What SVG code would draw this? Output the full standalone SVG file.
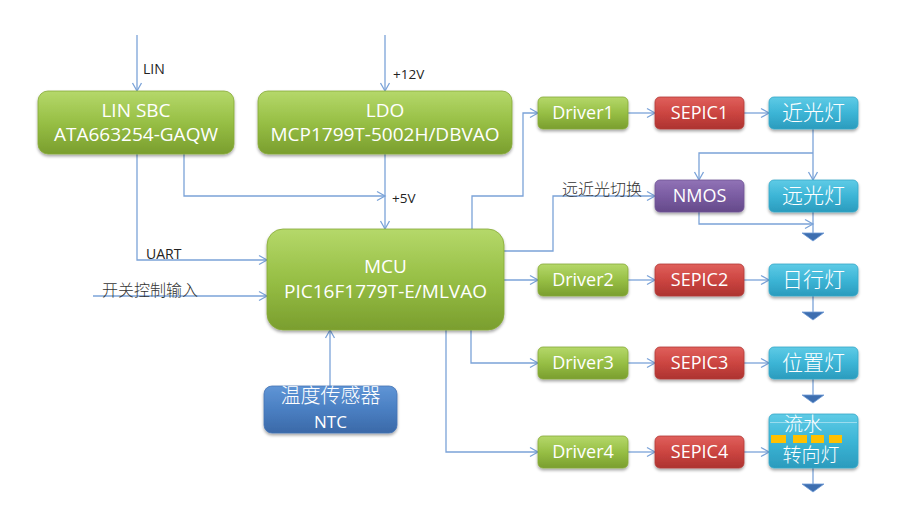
<svg xmlns="http://www.w3.org/2000/svg" width="919" height="523" viewBox="0 0 919 523">
<defs>
  <linearGradient id="gGreen" x1="0" y1="0" x2="0" y2="1">
    <stop offset="0" stop-color="#b5d86a"/>
    <stop offset="0.5" stop-color="#97bf45"/>
    <stop offset="1" stop-color="#7a9e2e"/>
  </linearGradient>
  <linearGradient id="gRed" x1="0" y1="0" x2="0" y2="1">
    <stop offset="0" stop-color="#e0605c"/>
    <stop offset="0.5" stop-color="#cc4541"/>
    <stop offset="1" stop-color="#ad3330"/>
  </linearGradient>
  <linearGradient id="gCyan" x1="0" y1="0" x2="0" y2="1">
    <stop offset="0" stop-color="#5fcbe6"/>
    <stop offset="0.5" stop-color="#3cb5d6"/>
    <stop offset="1" stop-color="#2b9bbd"/>
  </linearGradient>
  <linearGradient id="gPurple" x1="0" y1="0" x2="0" y2="1">
    <stop offset="0" stop-color="#9173b6"/>
    <stop offset="0.5" stop-color="#7a5ca2"/>
    <stop offset="1" stop-color="#654a8a"/>
  </linearGradient>
  <linearGradient id="gBlue" x1="0" y1="0" x2="0" y2="1">
    <stop offset="0" stop-color="#5f95d6"/>
    <stop offset="0.5" stop-color="#4a7fc2"/>
    <stop offset="1" stop-color="#3b69a8"/>
  </linearGradient>
  <filter id="sh" x="-10%" y="-20%" width="120%" height="150%">
    <feDropShadow dx="0" dy="2" stdDeviation="1.5" flood-color="#000" flood-opacity="0.35"/>
  </filter>
  <marker id="arr" markerUnits="userSpaceOnUse" markerWidth="12" markerHeight="12" refX="9" refY="5" orient="auto" overflow="visible">
    <path d="M1,0.5 L9,5 L1,9.5" fill="none" stroke="#7ba3d8" stroke-width="1.3"/>
  </marker>
</defs>
<style>
  .box text { font-family: "Open Sans", "Liberation Sans", sans-serif; fill: #ffffff; text-anchor: middle; }
  .box text.cn { font-family: "Noto Sans CJK SC", sans-serif; font-weight: 300; }
  .box rect.b { filter: url(#sh); }
  .green { fill: url(#gGreen); stroke: #86aa36; stroke-width: 0.8; }
  .red { fill: url(#gRed); stroke: #b23a36; stroke-width: 0.8; }
  .cyan { fill: url(#gCyan); stroke: #36a8c8; stroke-width: 0.8; }
  .purple { fill: url(#gPurple); stroke: #6f5396; stroke-width: 0.8; }
  .blue { fill: url(#gBlue); stroke: #4574b4; stroke-width: 0.8; }
  .big { font-size: 19px; }
  .sm { font-size: 18px; }
  .cn21 { font-size: 21px; }
  .conn path { stroke: #7ba3d8; stroke-width: 1.3; fill: none; }
  .conn path.a { marker-end: url(#arr); }
  .lbl { font-family: "Open Sans", "Liberation Sans", sans-serif; font-size: 14px; fill: #222222; }
  .lbl.s { font-size: 13.5px; }
  .lblcn { font-family: "Noto Sans CJK SC", sans-serif; font-size: 16px; fill: #333333; font-weight: 300; }
  .gnd { fill: #3d6eb0; stroke: #6f9bd6; stroke-width: 0.8; }
</style>

<g class="conn" id="connectors">
  <path class="a" d="M137,35 V91"/>
  <path class="a" d="M385,35 V91"/>
  <path class="a" d="M137,154 V260 H267"/>
  <path class="a" d="M184,154 V196 H385"/>
  <path class="a" d="M385,154 V229"/>
  <path class="a" d="M93,296 H267"/>
  <path class="a" d="M330,386 V330"/>
  <path class="a" d="M472,229 V196 H523 V113 H538"/>
  <path class="a" d="M504,251 H553 V196 H655"/>
  <path class="a" d="M628,113 H655"/>
  <path class="a" d="M744,113 H769"/>
  <path class="a" d="M813,129 V180"/>
  <path class="a" d="M813,153 H699 V180"/>
  <path class="a" d="M699,212 V224 H813"/>
  <path d="M813,212 V233"/>
  <path class="a" d="M504,280 H538"/>
  <path class="a" d="M628,280 H655"/>
  <path class="a" d="M744,280 H769"/>
  <path d="M813,296 V312"/>
  <path class="a" d="M471,330 V363 H538"/>
  <path class="a" d="M628,363 H655"/>
  <path class="a" d="M744,363 H769"/>
  <path d="M813,379 V395"/>
  <path class="a" d="M446,330 V452 H538"/>
  <path class="a" d="M628,452 H655"/>
  <path class="a" d="M744,452 H769"/>
  <path d="M813,468 V484"/>
</g>

<g id="labels">
  <text class="lbl" x="143" y="74">LIN</text>
  <text class="lbl s" x="393" y="79">+12V</text>
  <text class="lbl s" x="392" y="203">+5V</text>
  <text class="lbl" x="146" y="259">UART</text>
  <text class="lblcn" x="562" y="195">远近光切换</text>
  <text class="lblcn" x="102" y="296">开关控制输入</text>
</g>

<g id="grounds">
  <polygon class="gnd" points="802,233 824,233 813,241"/>
  <polygon class="gnd" points="802,312 824,312 813,320"/>
  <polygon class="gnd" points="802,395 824,395 813,403"/>
  <polygon class="gnd" points="802,484 824,484 813,492"/>
</g>

<g class="box" id="lin-sbc">
  <rect class="b green" x="38" y="91" width="196" height="63" rx="10"/>
  <text class="big" x="136" y="117">LIN SBC</text>
  <text class="big" x="136" y="141">ATA663254-GAQW</text>
</g>
<g class="box" id="ldo">
  <rect class="b green" x="258" y="91" width="254" height="63" rx="10"/>
  <text class="big" x="385" y="117">LDO</text>
  <text class="big" x="385" y="141">MCP1799T-5002H/DBVAO</text>
</g>
<g class="box" id="mcu">
  <rect class="b green" x="267" y="229" width="237" height="101" rx="16"/>
  <text class="big" x="385.5" y="273">MCU</text>
  <text class="big" x="385.5" y="298">PIC16F1779T-E/MLVAO</text>
</g>
<g class="box" id="ntc">
  <rect class="b blue" x="264" y="386" width="133" height="47" rx="8"/>
  <text class="cn" font-size="20" x="330.5" y="403">温度传感器</text>
  <text font-size="17" x="330.5" y="428">NTC</text>
</g>

<g class="box" id="driver1">
  <rect class="b green" x="538" y="97" width="90" height="32" rx="5"/>
  <text class="sm" x="583" y="119">Driver1</text>
</g>
<g class="box" id="sepic1">
  <rect class="b red" x="655" y="97" width="89" height="32" rx="5"/>
  <text class="sm" x="699.5" y="119">SEPIC1</text>
</g>
<g class="box" id="low-beam">
  <rect class="b cyan" x="769" y="97" width="89" height="32" rx="5"/>
  <text class="cn cn21" x="813.5" y="120">近光灯</text>
</g>
<g class="box" id="nmos">
  <rect class="b purple" x="655" y="180" width="89" height="32" rx="5"/>
  <text class="sm" x="699.5" y="202">NMOS</text>
</g>
<g class="box" id="high-beam">
  <rect class="b cyan" x="769" y="180" width="89" height="32" rx="5"/>
  <text class="cn cn21" x="813.5" y="203">远光灯</text>
</g>

<g class="box" id="driver2">
  <rect class="b green" x="538" y="264" width="90" height="32" rx="5"/>
  <text class="sm" x="583" y="286">Driver2</text>
</g>
<g class="box" id="sepic2">
  <rect class="b red" x="655" y="264" width="89" height="32" rx="5"/>
  <text class="sm" x="699.5" y="286">SEPIC2</text>
</g>
<g class="box" id="drl">
  <rect class="b cyan" x="769" y="264" width="89" height="32" rx="5"/>
  <text class="cn cn21" x="813.5" y="287">日行灯</text>
</g>

<g class="box" id="driver3">
  <rect class="b green" x="538" y="347" width="90" height="32" rx="5"/>
  <text class="sm" x="583" y="369">Driver3</text>
</g>
<g class="box" id="sepic3">
  <rect class="b red" x="655" y="347" width="89" height="32" rx="5"/>
  <text class="sm" x="699.5" y="369">SEPIC3</text>
</g>
<g class="box" id="position">
  <rect class="b cyan" x="769" y="347" width="89" height="32" rx="5"/>
  <text class="cn cn21" x="813.5" y="370">位置灯</text>
</g>

<g class="box" id="driver4">
  <rect class="b green" x="538" y="436" width="90" height="32" rx="5"/>
  <text class="sm" x="583" y="458">Driver4</text>
</g>
<g class="box" id="sepic4">
  <rect class="b red" x="655" y="436" width="89" height="32" rx="5"/>
  <text class="sm" x="699.5" y="458">SEPIC4</text>
</g>
<g class="box" id="turn">
  <rect class="b cyan" x="769" y="414" width="89" height="54" rx="5"/>
  <line x1="770" y1="422.5" x2="857" y2="422.5" stroke="#9adcee" stroke-width="1"/>
  <text class="cn" font-size="19" x="803" y="431">流水</text>
  <rect x="771" y="435" width="15" height="8" fill="#ffc000"/>
  <rect x="793" y="435" width="14" height="8" fill="#ffc000"/>
  <rect x="811" y="435" width="13" height="8" fill="#ffc000"/>
  <rect x="829" y="435" width="13" height="8" fill="#ffc000"/>
  <text class="cn" font-size="19" x="811" y="462">转向灯</text>
</g>
</svg>
